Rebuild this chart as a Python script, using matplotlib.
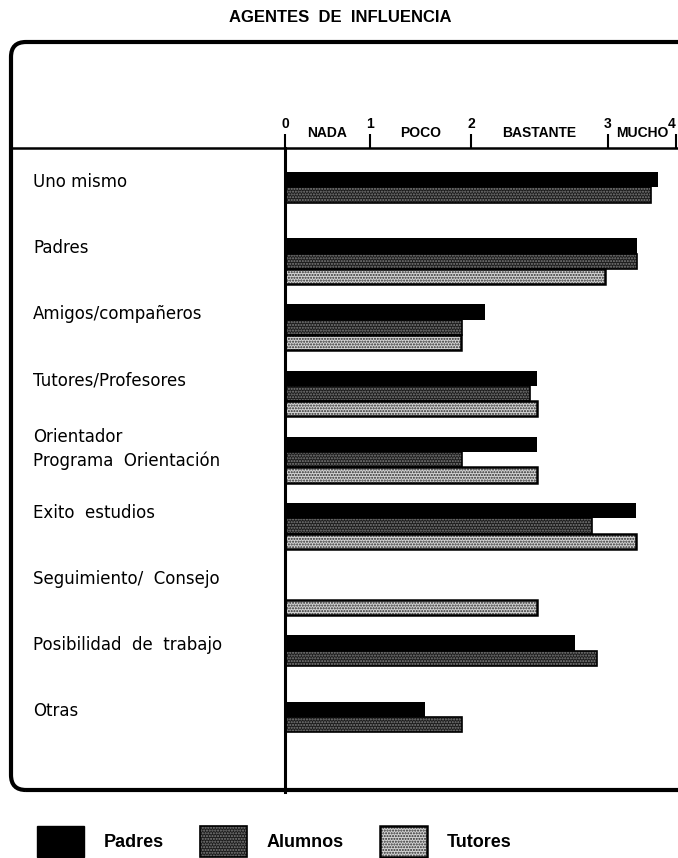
import numpy as np
import matplotlib
matplotlib.use('Agg')
import matplotlib.pyplot as plt
from matplotlib.patches import FancyBboxPatch, Patch
from matplotlib.lines import Line2D
from matplotlib.legend_handler import HandlerTuple

# datos
categorias = ['Uno mismo', 'Padres', 'Amigos/compañeros', 'Tutores/Profesores',
              'Orientador\nPrograma  Orientación', 'Exito  estudios',
              'Seguimiento/  Consejo', 'Posibilidad  de  trabajo', 'Otras']
padres = [3.74, 3.42, 2.10, 2.48, 2.48, 3.41, np.nan, 2.76, 1.54]
alumnos = [3.63, 3.42, 1.91, 2.43, 1.91, 2.88, np.nan, 2.92, 1.91]
tutores = [np.nan, 2.98, 1.90, 2.48, 2.48, 3.41, 2.48, np.nan, np.nan]
niveles = ['NADA', 'POCO', 'BASTANTE', 'MUCHO']
marcas = [0, 1, 2, 3, 4]

# la escala del original no es uniforme entre marcas
esc_v = [-1, 0, 1, 2, 3, 4, 5]
esc_p = [-85, 0, 85, 186, 323, 391, 459]


def fwd(v):
    return np.interp(v, esc_v, esc_p)


def inv(p):
    return np.interp(p, esc_p, esc_v)


fig = plt.figure(figsize=(6.78, 8.58), dpi=100)
ax = fig.add_axes([285 / 678, 66 / 858, 391 / 678, 644 / 858])
ax.set_xscale('function', functions=(fwd, inv))
ax.set_xlim(0, 4)

y = np.arange(len(categorias))
h = 0.231

# estilos de relleno
c_alum, p_alum = '#1c1c1c', '#808080'
c_tut, p_tut = '#d4d4d4', '#2a2a2a'

ax.barh(y - h, padres, height=h, color='black', lw=0)
ax.barh(y, alumnos, height=h, color=c_alum, edgecolor=p_alum, lw=0, hatch='......')
ax.barh(y, alumnos, height=h, fill=False, edgecolor='black', lw=1.2)
ax.barh(y + h, tutores, height=h, color=c_tut, edgecolor=p_tut, lw=0, hatch='......')
ax.barh(y + h, tutores, height=h, fill=False, edgecolor='black', lw=1.8)

ax.set_ylim(9.02, -0.71)

# etiquetas de la izquierda
ax.set_yticks(y - h, categorias)
ax.tick_params(axis='y', length=0, pad=181.4, labelsize=12)
for lab in ax.get_yticklabels():
    lab.set_ha('left')
    lab.set_linespacing(1.35)

# eje superior
ax.xaxis.tick_top()
ax.set_xticks(marcas, [str(m) for m in marcas])
ax.tick_params(axis='x', direction='out', length=10, width=1.5, pad=2.5)
for lab in ax.get_xticklabels():
    lab.set_fontweight('bold')
    lab.set_fontsize(10)
    lab.set_family('Liberation Sans')
ax.get_xticklabels()[-1].set_ha('right')

for i, niv in enumerate(niveles):
    ax.text(i + 0.5, 1.023, niv, transform=ax.get_xaxis_transform(),
            ha='center', va='center', fontsize=10, fontweight='bold', family='Liberation Sans')

for s in ['top', 'right', 'bottom']:
    ax.spines[s].set_visible(False)
ax.spines['left'].set_linewidth(2.2)

# linea horizontal del eje y marco redondeado
fig.add_artist(Line2D([10 / 678, 1], [1 - 148 / 858] * 2, color='black', lw=1.8))
marco = FancyBboxPatch((0.11, 0.68), 7.2, 7.48, boxstyle='round,pad=0,rounding_size=0.15',
                       transform=fig.dpi_scale_trans, fill=False, edgecolor='black', lw=3)
fig.add_artist(marco)

fig.text(340 / 678, 1 - 18 / 858, 'AGENTES  DE  INFLUENCIA', ha='center', va='center',
         fontsize=12, fontweight='bold', family='Liberation Sans')

# leyenda
h_padres = Patch(facecolor='black', edgecolor='black')
h_alum = (Patch(facecolor=c_alum, edgecolor=p_alum, lw=0, hatch='......'),
          Patch(fill=False, edgecolor='black', lw=1.2))
h_tut = (Patch(facecolor=c_tut, edgecolor=p_tut, lw=0, hatch='......'),
         Patch(fill=False, edgecolor='black', lw=1.8))
fig.legend([h_padres, h_alum, h_tut], ['Padres', 'Alumnos', 'Tutores'],
           handler_map={tuple: HandlerTuple(ndivide=1, pad=0)},
           loc='lower left', bbox_to_anchor=(37 / 678, 1 / 858), ncol=3, frameon=False,
           borderpad=0, borderaxespad=0, handlelength=2.6, handleheight=2.26,
           handletextpad=1.1, columnspacing=2.0,
           prop={'family': 'Liberation Sans', 'weight': 'bold', 'size': 13})

fig.savefig('out.png', dpi=100)
